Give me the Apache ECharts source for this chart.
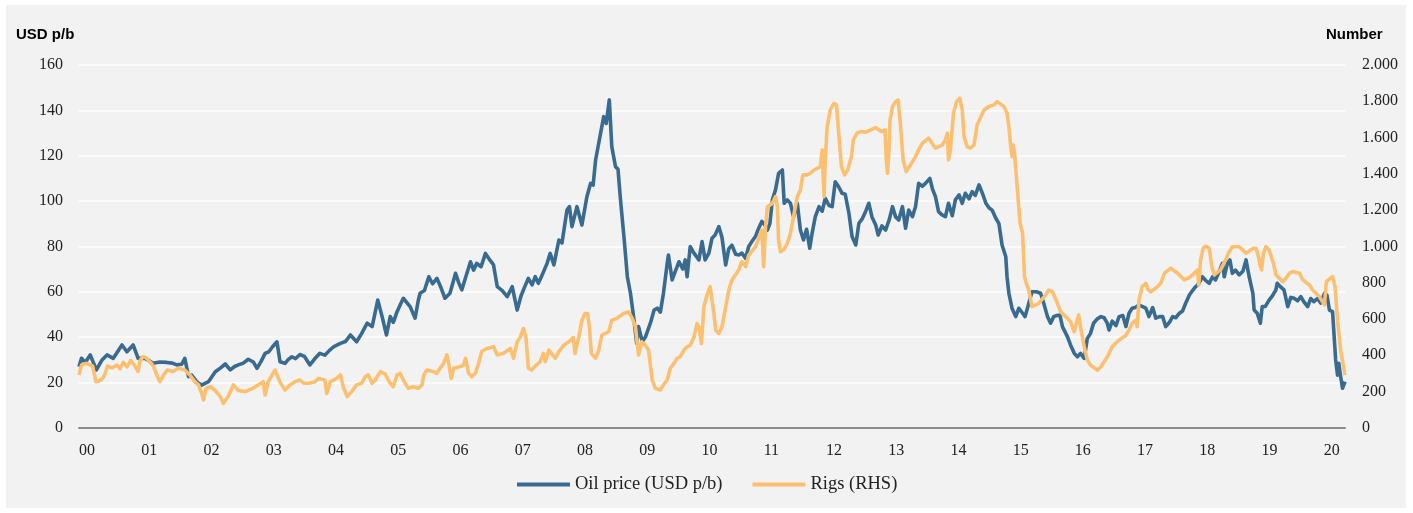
<!DOCTYPE html>
<html>
<head>
<meta charset="utf-8">
<script src="https://cdn.jsdelivr.net/npm/echarts@6/dist/echarts.min.js"></script>
<style>
  html, body { margin: 0; padding: 0; background: #ffffff; }
  #box { position: absolute; left: 6px; top: 5px; width: 1400px; height: 503px; background: #f2f2f2; }
  #chart { width: 1400px; height: 503px; }
</style>
</head>
<body>
<div id="box"><div id="chart"></div></div>
<script>
// oil price (USD p/b), weekly-ish readings, x in decimal years
const oilYears = [
  2000.00,2000.04,2000.10,2000.18,2000.28,2000.37,2000.45,2000.55,2000.62,2000.69,2000.77,2000.87,2000.95,
  2001.06,2001.13,2001.19,2001.30,2001.41,2001.50,2001.57,2001.65,2001.70,2001.76,2001.81,2001.90,2001.97,
  2002.08,2002.19,2002.28,2002.35,2002.43,2002.50,2002.56,2002.64,2002.72,2002.80,2002.86,2002.93,2002.99,
  2003.05,2003.11,2003.18,2003.23,2003.31,2003.36,2003.42,2003.48,2003.55,2003.62,2003.71,2003.79,2003.87,2003.95,
  2004.02,2004.09,2004.15,2004.20,2004.28,2004.36,2004.46,2004.54,2004.63,2004.71,2004.80,2004.87,2004.94,
  2005.00,2005.05,2005.11,2005.21,2005.32,2005.40,2005.45,2005.48,2005.55,2005.62,2005.68,2005.75,2005.82,2005.88,2005.96,
  2006.05,2006.10,2006.15,2006.22,2006.29,2006.34,2006.39,2006.46,2006.53,2006.60,2006.66,2006.72,2006.80,2006.88,2006.96,
  2007.04,2007.10,2007.14,2007.22,2007.28,2007.33,2007.38,2007.42,2007.52,2007.57,2007.63,2007.71,2007.76,2007.84,2007.88,2007.92,
  2008.00,2008.08,2008.16,2008.22,2008.26,2008.30,2008.35,2008.40,2008.43,2008.47,2008.52,2008.56,2008.62,2008.66,2008.70,2008.76,2008.81,2008.86,2008.91,2008.96,2008.99,
  2009.05,2009.10,2009.18,2009.24,2009.29,2009.34,2009.39,2009.45,2009.47,2009.53,2009.58,2009.64,2009.70,2009.74,2009.77,2009.82,2009.88,2009.96,
  2010.01,2010.06,2010.12,2010.17,2010.22,2010.28,2010.33,2010.39,2010.44,2010.49,2010.55,2010.60,2010.65,2010.71,2010.76,2010.81,2010.87,2010.92,2010.97,
  2011.03,2011.06,2011.10,2011.14,2011.19,2011.24,2011.30,2011.33,2011.38,2011.43,2011.48,2011.54,2011.59,2011.64,2011.69,2011.74,2011.78,2011.83,2011.89,2011.94,2011.99,
  2012.05,2012.10,2012.15,2012.20,2012.26,2012.31,2012.37,2012.42,2012.48,2012.53,2012.58,2012.64,2012.69,2012.74,2012.80,2012.84,2012.90,2012.96,
  2013.02,2013.07,2013.12,2013.17,2013.23,2013.28,2013.33,2013.39,2013.44,2013.49,2013.55,2013.60,2013.67,2013.71,2013.76,2013.81,2013.86,2013.92,2013.97,
  2014.03,2014.08,2014.14,2014.19,2014.24,2014.30,2014.35,2014.40,2014.46,2014.52,2014.57,2014.62,2014.67,2014.73,2014.78,2014.83,2014.89,2014.91,2014.94,2014.99,
  2015.05,2015.10,2015.16,2015.20,2015.26,2015.31,2015.38,2015.45,2015.50,2015.56,2015.61,2015.66,2015.71,2015.76,2015.80,2015.88,2015.93,2015.99,
  2016.04,2016.09,2016.15,2016.20,2016.25,2016.30,2016.36,2016.42,2016.47,2016.52,2016.55,2016.60,2016.66,2016.71,2016.77,2016.82,2016.87,2016.92,2016.97,
  2017.03,2017.08,2017.14,2017.19,2017.25,2017.30,2017.36,2017.41,2017.46,2017.52,2017.57,2017.62,2017.68,2017.73,2017.78,2017.84,2017.89,2017.94,2017.99,
  2018.05,2018.10,2018.16,2018.21,2018.26,2018.32,2018.37,2018.40,2018.45,2018.49,2018.53,2018.58,2018.64,2018.70,2018.75,2018.80,2018.86,2018.88,2018.93,2018.98,
  2019.01,2019.06,2019.12,2019.17,2019.23,2019.25,2019.31,2019.36,2019.42,2019.47,2019.52,2019.58,2019.63,2019.68,2019.74,2019.79,2019.84,2019.90,2019.95,
  2020.01,2020.05,2020.09,2020.14,2020.19,2020.22,2020.24,2020.27,2020.30,2020.34
];
const oilPrice = [
  26.9,30.6,28.8,32.1,25.5,29.9,32.1,30.6,33.5,36.5,33.5,36.5,30.6,
  30.6,29.5,28.4,29.0,28.8,28.5,27.7,28.0,30.6,22.5,23.2,20.0,18.8,
  20.3,24.7,26.5,28.1,25.5,27.0,27.7,28.5,30.2,29.0,26.2,29.5,32.8,
  33.5,35.7,37.9,29.1,28.4,30.0,31.3,30.5,32.3,31.5,27.7,30.5,32.8,32.0,
  34.0,35.7,36.5,37.2,38.0,40.9,37.9,41.5,46.1,44.6,56.3,49.0,40.9,
  49.0,46.5,51.2,57.1,53.4,48.3,56.0,59.3,60.5,66.6,63.5,65.9,61.5,57.1,59.3,
  68.1,64.0,60.8,67.0,73.2,69.5,72.5,71.0,76.9,74.0,71.8,62.2,60.5,57.8,62.2,
  51.9,58.0,60.8,65.9,63.0,66.6,63.7,66.0,72.5,76.9,71.8,82.8,81.5,96.0,97.5,88.7,
  97.5,89.4,101.9,107.8,107.0,118.1,125.5,132.8,137.2,134.2,144.6,124.0,115.1,114.0,100.5,82.8,66.6,59.3,49.0,37.2,44.6,
  37.9,40.0,46.1,51.9,52.7,51.0,59.3,72.5,76.2,65.2,69.0,73.2,70.0,74.0,66.6,79.9,77.0,74.0,
  82.1,74.0,77.0,83.6,85.0,88.7,84.0,71.8,79.0,80.5,76.5,76.2,77.0,74.7,79.9,82.1,84.5,88.0,91.0,
  89.0,87.2,90.0,100.5,104.9,112.2,113.7,99.0,100.5,99.0,93.1,99.0,87.2,82.8,87.5,79.2,86.0,93.1,97.5,95.5,101.2,
  98.0,97.5,108.5,106.5,103.4,103.0,94.6,84.3,80.6,90.2,92.0,95.5,99.0,93.0,89.4,85.0,89.0,87.2,
  92.0,97.5,93.0,91.6,97.5,88.0,96.0,93.1,97.5,107.8,106.5,107.8,110.0,105.5,101.9,95.3,94.0,93.1,99.0,
  93.5,100.5,102.7,99.0,103.4,101.0,104.1,102.5,107.1,103.0,99.0,97.0,96.0,92.4,90.0,80.6,75.4,66.6,59.3,52.7,
  49.0,52.7,50.5,49.0,54.9,60.0,60.0,59.3,54.9,49.0,46.1,49.0,49.5,49.7,44.6,40.2,36.5,32.8,
  31.3,32.8,30.6,39.4,41.5,46.1,48.0,49.0,48.5,46.1,43.1,47.0,45.0,49.0,49.5,44.6,50.5,52.7,53.0,
  54.1,53.5,52.7,49.0,53.0,48.3,49.0,49.0,44.6,46.5,49.0,48.5,50.5,51.5,54.9,58.5,60.5,62.2,63.5,
  66.6,65.0,63.7,66.5,65.2,69.0,72.5,66.6,72.5,74.0,68.1,69.5,67.4,69.0,74.0,66.6,59.3,51.9,50.5,46.1,
  53.4,53.5,56.3,58.0,60.8,63.7,62.0,60.8,53.4,57.5,57.1,56.0,57.8,55.5,53.4,57.0,55.6,57.0,55.0,
  59.3,58.5,51.9,51.2,29.9,23.2,28.4,22.5,17.4,20.3
];

// rig count (right axis)
const rigYears = [
  2000.00,2000.04,2000.12,2000.22,2000.27,2000.33,2000.40,2000.46,2000.53,2000.61,2000.66,2000.71,2000.77,2000.83,2000.89,2000.95,2000.98,
  2001.03,2001.08,2001.15,2001.20,2001.26,2001.30,2001.36,2001.42,2001.51,2001.60,2001.70,2001.78,2001.86,2001.92,2001.97,
  2002.00,2002.04,2002.11,2002.19,2002.27,2002.32,2002.40,2002.48,2002.56,2002.67,2002.78,2002.88,2002.96,2002.99,
  2003.04,2003.11,2003.15,2003.23,2003.31,2003.39,2003.47,2003.55,2003.61,2003.69,2003.79,2003.85,2003.95,2003.98,
  2004.04,2004.14,2004.20,2004.25,2004.31,2004.38,2004.46,2004.54,2004.60,2004.65,2004.71,2004.76,2004.84,2004.92,
  2005.00,2005.05,2005.11,2005.16,2005.21,2005.29,2005.37,2005.45,2005.51,2005.54,2005.59,2005.70,2005.75,2005.80,2005.86,2005.91,2005.94,2005.98,
  2006.02,2006.13,2006.18,2006.21,2006.26,2006.31,2006.37,2006.42,2006.47,2006.55,2006.66,2006.72,2006.82,2006.93,2006.98,
  2007.04,2007.09,2007.14,2007.18,2007.22,2007.27,2007.33,2007.41,2007.46,2007.49,2007.55,2007.65,2007.71,2007.79,2007.87,2007.94,2007.97,
  2008.03,2008.08,2008.13,2008.17,2008.20,2008.23,2008.30,2008.35,2008.40,2008.51,2008.56,2008.64,2008.75,2008.83,2008.89,2008.94,2008.99,
  2009.04,2009.10,2009.15,2009.21,2009.26,2009.34,2009.39,2009.45,2009.50,2009.56,2009.61,2009.66,2009.72,2009.77,2009.82,2009.88,2009.93,2009.96,
  2010.00,2010.04,2010.09,2010.14,2010.20,2010.23,2010.28,2010.33,2010.39,2010.44,2010.49,2010.60,2010.65,2010.71,2010.76,2010.87,2010.92,2010.97,
  2011.00,2011.03,2011.06,2011.14,2011.19,2011.22,2011.24,2011.27,2011.32,2011.38,2011.43,2011.48,2011.54,2011.59,2011.63,2011.70,2011.75,2011.81,2011.86,2011.91,2011.94,2011.97,2011.99,
  2012.02,2012.07,2012.13,2012.17,2012.21,2012.25,2012.30,2012.35,2012.41,2012.44,2012.50,2012.56,2012.64,2012.72,2012.80,2012.85,2012.90,2012.95,2012.97,2012.99,
  2013.01,2013.03,2013.07,2013.12,2013.16,2013.20,2013.24,2013.29,2013.36,2013.44,2013.49,2013.55,2013.65,2013.76,2013.87,2013.92,2013.95,2013.97,
  2014.00,2014.05,2014.10,2014.15,2014.19,2014.22,2014.27,2014.32,2014.38,2014.43,2014.49,2014.54,2014.62,2014.70,2014.75,2014.86,2014.91,2014.94,2014.97,2014.99,
  2015.01,2015.03,2015.06,2015.09,2015.12,2015.16,2015.17,2015.19,2015.22,2015.26,2015.31,2015.42,2015.53,2015.58,2015.64,2015.72,2015.77,2015.88,2015.93,2015.99,
  2016.06,2016.09,2016.15,2016.20,2016.25,2016.36,2016.42,2016.47,2016.52,2016.55,2016.60,2016.71,2016.82,2016.87,2016.92,2016.98,
  2017.00,2017.03,2017.08,2017.14,2017.18,2017.22,2017.33,2017.38,2017.44,2017.54,2017.65,2017.76,2017.86,2017.97,2017.99,
  2018.02,2018.06,2018.10,2018.16,2018.20,2018.24,2018.34,2018.42,2018.48,2018.53,2018.64,2018.75,2018.86,2018.91,2018.95,2018.98,
  2019.00,2019.03,2019.07,2019.12,2019.19,2019.23,2019.34,2019.39,2019.45,2019.50,2019.61,2019.66,2019.77,2019.82,2019.93,
  2020.01,2020.04,2020.14,2020.18,2020.22,2020.27,2020.34
];
const rigCount = [
  291,346,355,340,254,258,281,340,330,345,325,360,335,370,345,310,370,
  392,385,360,336,281,254,291,318,310,328,318,291,254,236,189,
  153,217,226,205,171,134,175,236,205,199,215,236,254,180,
  254,295,318,250,208,236,254,263,245,245,254,272,263,189,
  254,272,291,220,171,199,236,245,281,291,245,263,309,295,
  245,226,291,300,263,217,226,217,236,291,318,309,300,328,355,401,355,272,
  328,337,346,383,300,281,300,355,420,437,446,401,410,437,383,
  474,501,547,500,328,318,340,364,410,364,428,383,419,455,474,497,410,
  501,593,630,630,556,410,383,428,510,529,593,602,630,639,602,556,401,
  474,455,428,263,217,208,236,263,328,355,383,392,428,446,455,501,574,556,
  465,667,732,778,630,538,520,556,667,759,815,870,916,888,952,998,1044,1090,
  888,1109,1219,1237,1274,1219,1035,971,980,1017,1072,1164,1274,1311,1394,1394,1403,1421,1430,1439,1532,1274,1476,
  1660,1752,1789,1780,1605,1439,1394,1421,1495,1587,1624,1633,1630,1642,1655,1642,1633,1642,1476,1403,
  1513,1697,1771,1798,1807,1660,1476,1412,1450,1495,1532,1569,1596,1541,1559,1587,1624,1476,
  1532,1734,1798,1817,1752,1605,1550,1541,1559,1670,1715,1752,1771,1780,1798,1771,1734,1660,1550,1495,
  1559,1513,1384,1256,1127,1072,998,833,796,759,667,686,732,759,750,686,640,603,585,529,
  622,557,447,373,346,318,336,364,390,410,447,483,510,538,575,593,
  557,704,778,796,759,750,778,796,852,880,852,815,833,870,787,
  925,989,1002,989,888,843,870,925,971,998,998,962,989,989,943,888,
  870,962,998,980,906,843,805,824,852,861,852,815,787,759,722,
  677,805,833,778,593,428,290
];

const serif = '"Liberation Serif", "Times New Roman", serif';
const sans = '"Liberation Sans", Arial, sans-serif';

const chart = echarts.init(document.getElementById('chart'));

chart.setOption({
  animation: false,
  backgroundColor: 'transparent',
  title: [
    { text: 'USD p/b', left: 10, top: 22, padding: 0,
      textStyle: { fontFamily: sans, fontWeight: 'bold', fontSize: 15, color: '#000' } },
    { text: 'Number', left: 1320, top: 22, padding: 0,
      textStyle: { fontFamily: sans, fontWeight: 'bold', fontSize: 15, color: '#000' } }
  ],
  legend: {
    left: 511,
    top: 470,
    padding: 0,
    icon: 'rect',
    itemWidth: 53,
    itemHeight: 4,
    itemGap: 30,
    textStyle: { fontFamily: serif, fontSize: 18.5, color: '#222' },
    data: ['Oil price (USD p/b)', 'Rigs (RHS)']
  },
  grid: { left: 73, top: 60, width: 1266, height: 362.7, containLabel: false },
  xAxis: {
    type: 'value',
    min: 2000,
    max: 2020.34,
    interval: 1,
    axisLine: { lineStyle: { color: '#8c8c8c', width: 2 } },
    axisTick: { show: false },
    splitLine: { show: false },
    axisLabel: {
      align: 'left',
      margin: 15,
      fontFamily: serif,
      fontSize: 16,
      color: '#222',
      formatter: v => Number.isInteger(v) ? String(v).slice(2) : ''
    }
  },
  yAxis: [
    {
      type: 'value',
      min: 0, max: 160, interval: 20,
      axisLine: { show: false },
      axisTick: { show: false },
      splitLine: { lineStyle: { color: '#ffffff', width: 1.5 } },
      axisLabel: { margin: 16, fontFamily: serif, fontSize: 16, color: '#222' }
    },
    {
      type: 'value',
      min: 0, max: 2000, interval: 200,
      axisLine: { show: false },
      axisTick: { show: false },
      splitLine: { show: false },
      axisLabel: {
        margin: 17, fontFamily: serif, fontSize: 16, color: '#222',
        formatter: v => v >= 1000 ? Math.floor(v / 1000) + '.' + String(v % 1000).padStart(3, '0') : String(v)
      }
    }
  ],
  series: [
    {
      name: 'Oil price (USD p/b)',
      type: 'line',
      yAxisIndex: 0,
      showSymbol: false,
      data: oilYears.map((t, i) => [t, oilPrice[i]]),
      lineStyle: { color: '#386b8f', width: 3.6, join: 'round' },
      itemStyle: { color: '#386b8f' }
    },
    {
      name: 'Rigs (RHS)',
      type: 'line',
      yAxisIndex: 1,
      showSymbol: false,
      data: rigYears.map((t, i) => [t, rigCount[i]]),
      lineStyle: { color: '#fdc070', width: 3.6, join: 'round' },
      itemStyle: { color: '#fdc070' }
    }
  ]
});
</script>
</body>
</html>
